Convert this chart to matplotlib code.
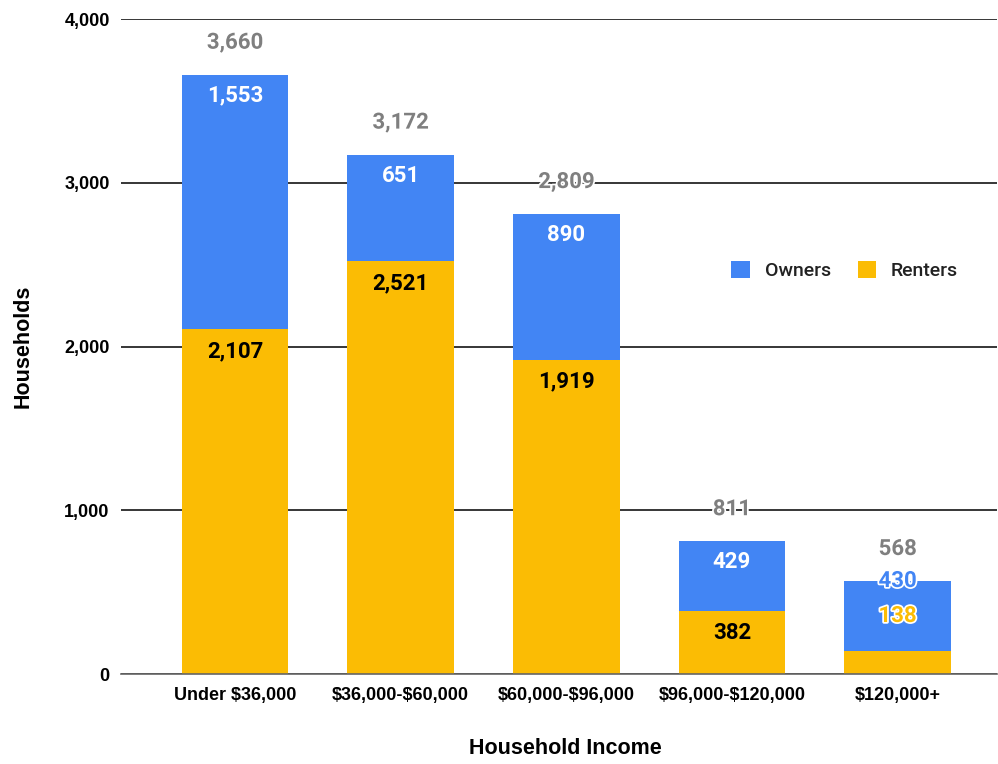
import matplotlib
matplotlib.use("Agg")
import matplotlib.pyplot as plt
import matplotlib.patheffects as pe
import numpy as np

plt.rcParams['font.family'] = ['Roboto', 'DejaVu Sans']

categories = ["Under \\$36,000", "\\$36,000-\\$60,000", "\\$60,000-\\$96,000", "\\$96,000-\\$120,000", "\\$120,000+"]
renters = [2107, 2521, 1919, 382, 138]
owners = [1553, 651, 890, 429, 430]
totals = [r + o for r, o in zip(renters, owners)]

BLUE = "#4285F4"
YELLOW = "#FBBC04"
GRAY = "#7f7f7f"
AXFONT = ['Liberation Sans', 'DejaVu Sans']

fig = plt.figure(figsize=(9.98, 7.64), dpi=100)
ax = fig.add_axes([0.121, 0.1178, 0.878, 0.8573])

x = np.arange(len(categories))
w = 0.645
ax.bar(x, renters, w, color=YELLOW, zorder=3, label="Renters")
ax.bar(x, owners, w, bottom=renters, color=BLUE, zorder=3, label="Owners")

ax.set_ylim(0, 4000)
ax.set_xlim(-0.69, 4.6)
ax.set_yticks([0, 1000, 2000, 3000, 4000])
ax.set_yticklabels(["0", "1,000", "2,000", "3,000", "4,000"])
ax.set_xticks(x)
ax.set_xticklabels(categories)
for lab in ax.get_xticklabels() + ax.get_yticklabels():
    lab.set_fontweight("bold")
    lab.set_fontsize(13)
    lab.set_family(AXFONT)
ax.tick_params(axis="x", length=0, pad=9)
ax.tick_params(axis="y", length=0, pad=8)
ax.grid(axis="y", color="black", linewidth=1.1, zorder=0)
for s in ["top", "right", "left"]:
    ax.spines[s].set_visible(False)
ax.spines["bottom"].set_color("#666666")
ax.spines["bottom"].set_linewidth(1.2)
ax.spines["bottom"].set_zorder(4)

ax.set_ylabel("Households", fontsize=15.5, fontweight="bold", family=AXFONT, labelpad=22)
ax.set_xlabel("Household Income", fontsize=15.5, fontweight="bold", family=AXFONT, labelpad=25, x=0.507)

halo = [pe.withStroke(linewidth=2.5, foreground="white")]
fmt = lambda v: f"{v:,}"
FS = 16
for i in range(len(categories)):
    top = totals[i]
    ax.annotate(fmt(top), (x[i], top), xytext=(0, 32), textcoords="offset pixels",
                ha="center", va="center", fontsize=FS, fontweight="bold", color=GRAY,
                path_effects=halo, zorder=6)
    if i < 4:
        ax.annotate(fmt(owners[i]), (x[i], top), xytext=(0, -21), textcoords="offset pixels",
                    ha="center", va="center", fontsize=FS, fontweight="bold", color="white", zorder=6)
        ax.annotate(fmt(renters[i]), (x[i], renters[i]), xytext=(0, -22), textcoords="offset pixels",
                    ha="center", va="center", fontsize=FS, fontweight="bold", color="black", zorder=6)
    else:
        ax.annotate(fmt(owners[i]), (x[i], top), xytext=(0, 0), textcoords="offset pixels",
                    ha="center", va="center", fontsize=FS, fontweight="bold", color=BLUE,
                    path_effects=halo, zorder=6)
        ax.annotate(fmt(renters[i]), (x[i], top), xytext=(0, -35), textcoords="offset pixels",
                    ha="center", va="center", fontsize=FS, fontweight="bold", color=YELLOW,
                    path_effects=halo, zorder=6)

handles, labels = ax.get_legend_handles_labels()
leg = ax.legend(handles[::-1], labels[::-1], loc="center left", bbox_to_anchor=(0.677, 0.616),
                ncol=2, frameon=False, prop={'family': ['Roboto'], 'weight': 500, 'size': 14},
                handlelength=0.95, handleheight=0.95, handletextpad=0.75, columnspacing=1.4)
for t in leg.get_texts():
    t.set_color("#222222")

fig.savefig("out.png", dpi=100)
